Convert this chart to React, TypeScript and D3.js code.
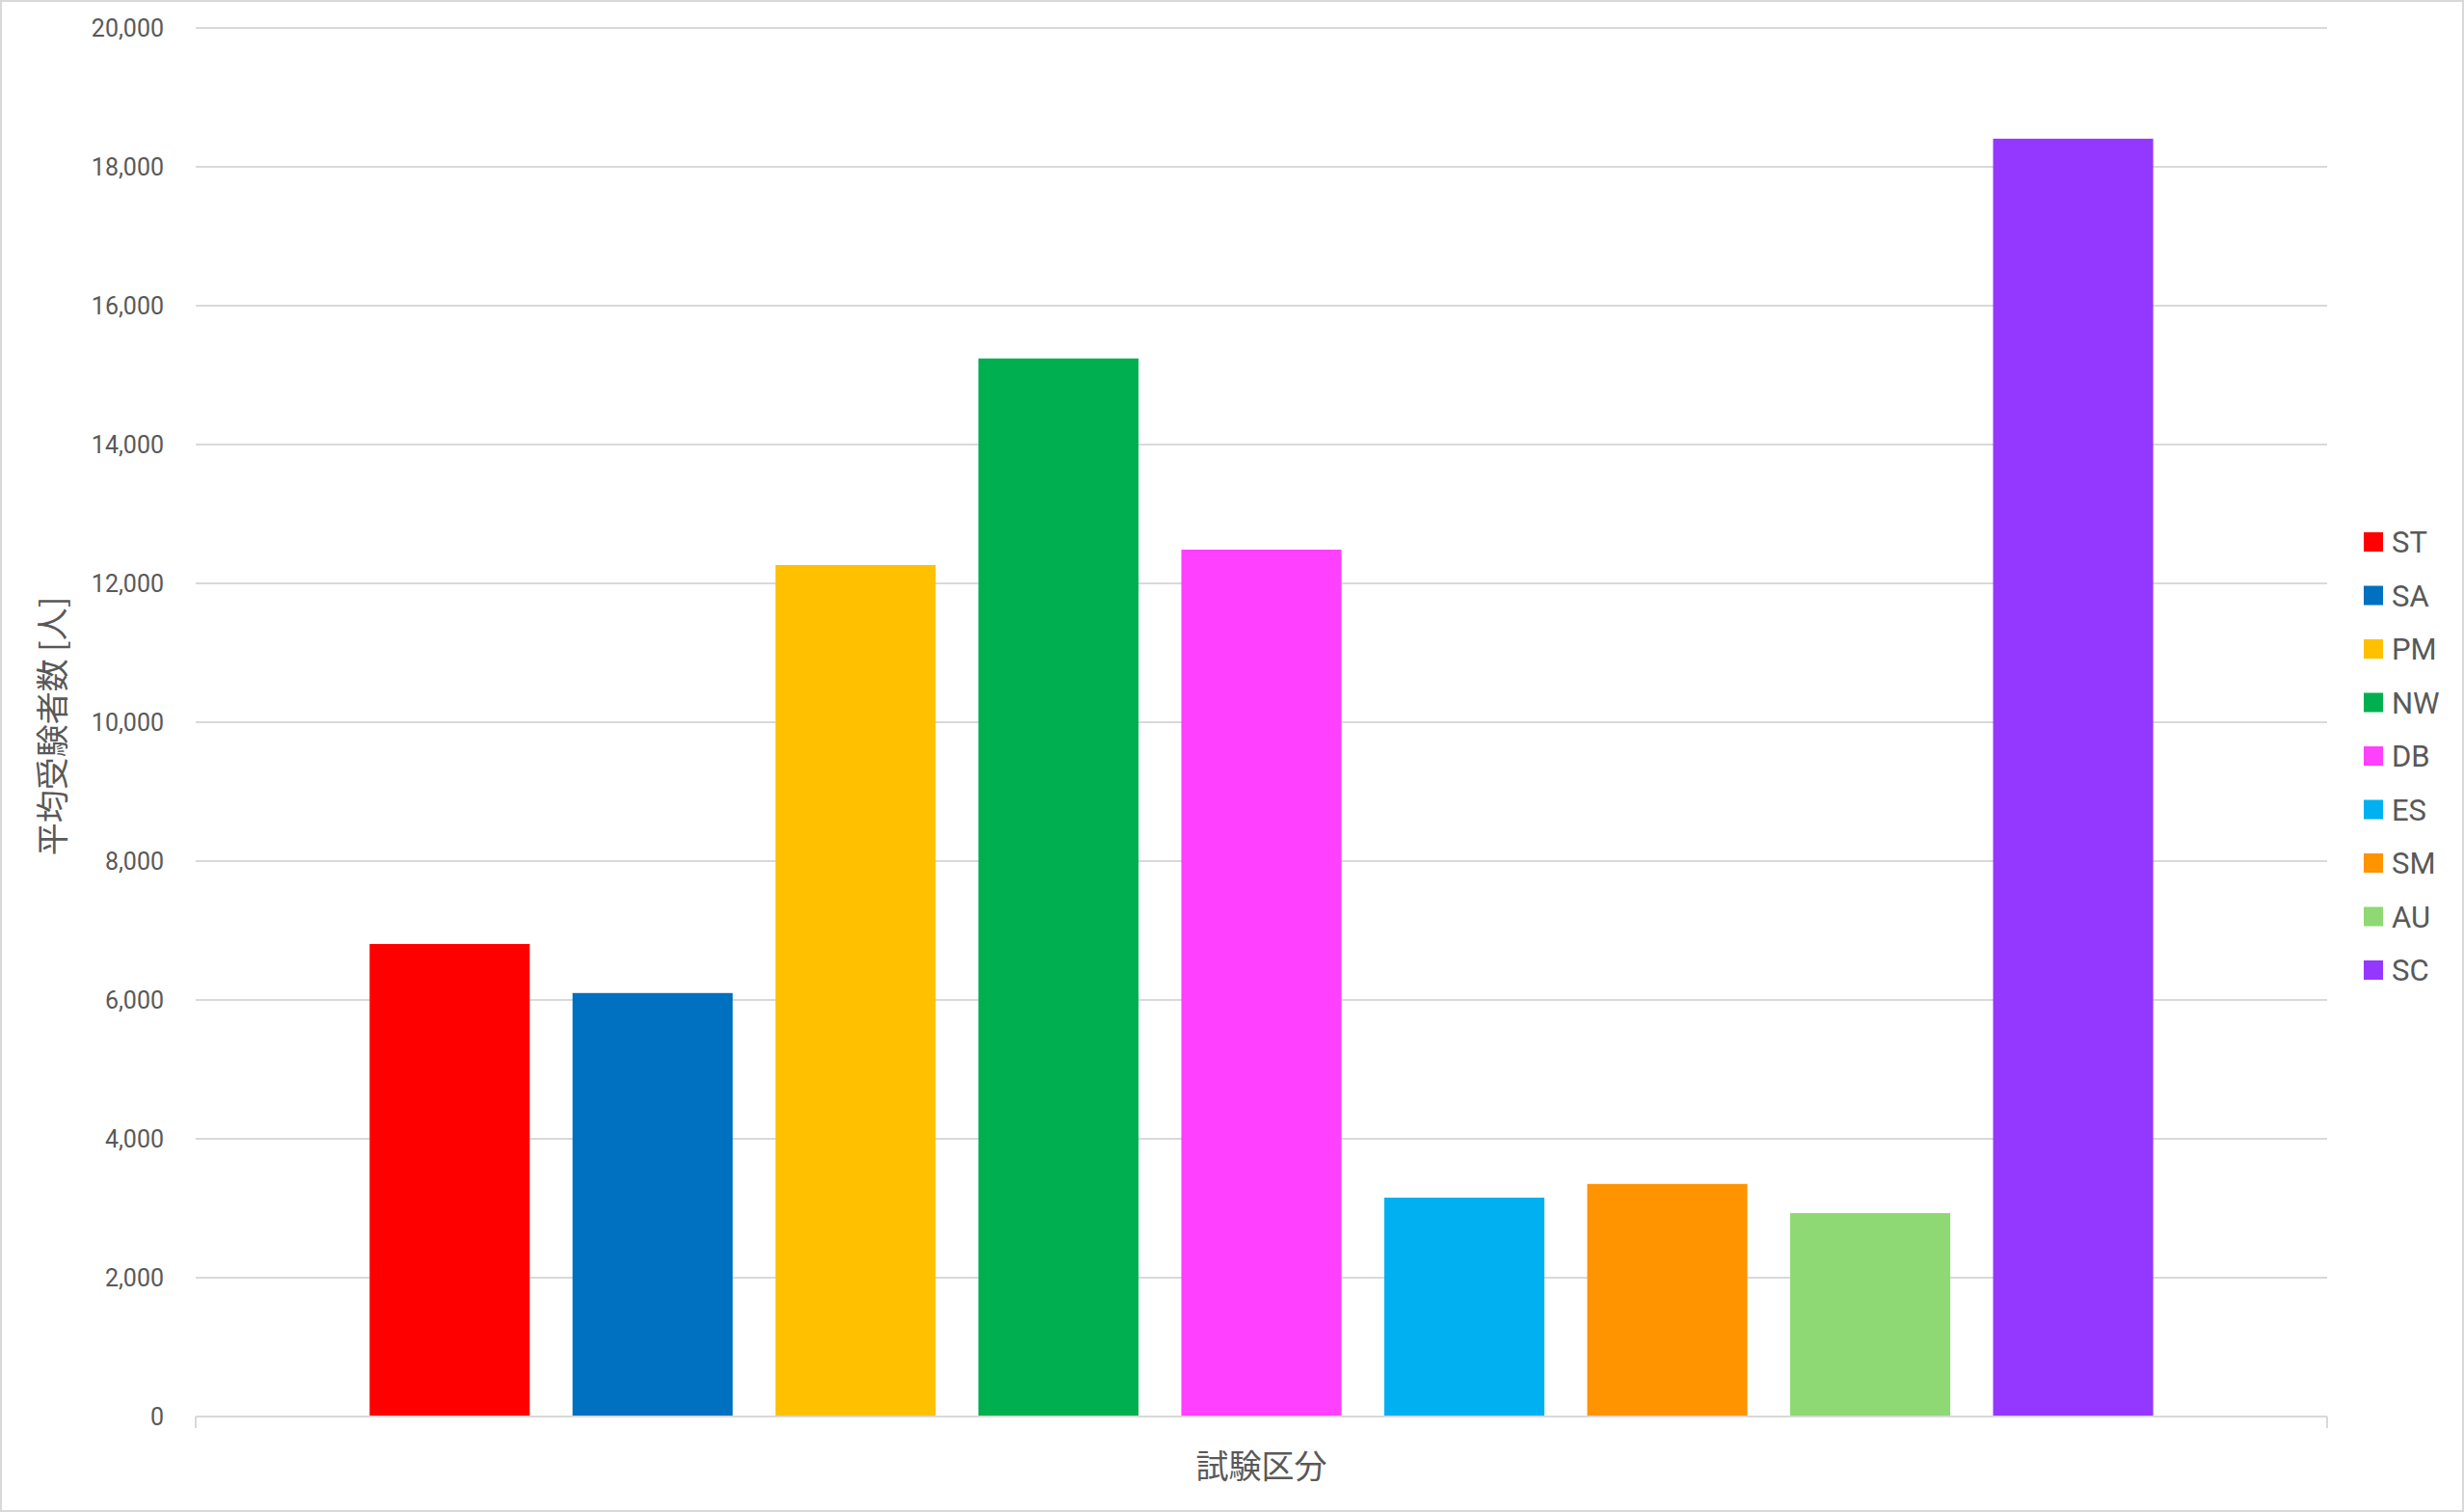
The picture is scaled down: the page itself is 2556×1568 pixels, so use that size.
import React from "react";
import * as d3 from "d3";

const seriesNames = ["ST", "SA", "PM", "NW", "DB", "ES", "SM", "AU", "SC"];
const seriesValues = [6806, 6100, 12264, 15240, 12486, 3153, 3350, 2930, 18405];
const seriesColors = ["#FF0000", "#0070C0", "#FFC000", "#00B050", "#FF40FF", "#00B0F0", "#FF9300", "#8ED973", "#9437FF"];
const yTicks = [0, 2000, 4000, 6000, 8000, 10000, 12000, 14000, 16000, 18000, 20000];
const yTitle = "平均受験者数 [人]";
const xTitle = "試験区分";

const W = 2556;
const H = 1568;
const plot = { left: 203, right: 2414, top: 29, bottom: 1469 };
const FONT = "Roboto, 'Noto Sans', 'Noto Sans CJK JP', sans-serif";
const CJK = "'Noto Sans CJK JP', sans-serif";
const TEXT = "#595959";
const GRID = "#D9D9D9";

export default function App() {
  const y = d3.scaleLinear().domain([0, 20000]).range([plot.bottom, plot.top]);
  const x = d3
    .scaleBand<string>()
    .domain(seriesNames)
    .range([plot.left, plot.right])
    .paddingInner(0.211)
    .paddingOuter(0.857);
  const fmt = d3.format(",");
  const legendX = 2452;
  const legendY0 = 562;
  const legendStep = 55.5;

  return (
    <svg
      width={W}
      height={H}
      style={{ position: "absolute", left: 0, top: 0, background: "#fff" }}
    >
      <rect x={1} y={1} width={W - 2} height={H - 2} fill="#fff" stroke={GRID} strokeWidth={2} />
      {yTicks.map((t) =>
        t === 0 ? null : (
          <line key={"g" + t} x1={plot.left} x2={plot.right} y1={y(t)} y2={y(t)} stroke={GRID} strokeWidth={2} />
        )
      )}
      {yTicks.map((t) => (
        <text
          key={"t" + t}
          x={170}
          y={y(t)}
          dy="0.35em"
          textAnchor="end"
          fontFamily={FONT}
          fontSize={25}
          fill={TEXT}
        >
          {fmt(t)}
        </text>
      ))}
      {seriesNames.map((s, i) => (
        <rect
          key={s}
          x={x(s)}
          y={y(seriesValues[i])}
          width={x.bandwidth()}
          height={y(0) - y(seriesValues[i])}
          fill={seriesColors[i]}
        />
      ))}
      <line x1={plot.left} x2={plot.right} y1={y(0)} y2={y(0)} stroke={GRID} strokeWidth={2} />
      <line x1={plot.left} x2={plot.left} y1={y(0)} y2={y(0) + 12} stroke={GRID} strokeWidth={2} />
      <line x1={plot.right} x2={plot.right} y1={y(0)} y2={y(0) + 12} stroke={GRID} strokeWidth={2} />
      <text
        x={(plot.left + plot.right) / 2}
        y={1521}
        dy="0.35em"
        textAnchor="middle"
        fontFamily={CJK}
        fontSize={34}
        fill={TEXT}
      >
        {xTitle}
      </text>
      <text
        transform={`translate(55, ${(plot.top + plot.bottom) / 2 + 4}) rotate(-90)`}
        dy="0.35em"
        textAnchor="middle"
        fontFamily={CJK}
        fontSize={34}
        fill={TEXT}
      >
        {yTitle}
      </text>
      {seriesNames.map((s, i) => (
        <g key={"l" + s} transform={`translate(${legendX}, ${legendY0 + i * legendStep})`}>
          <rect x={0} y={-10} width={20} height={20} fill={seriesColors[i]} />
          <text x={29} y={0} dy="0.36em" fontFamily={FONT} fontSize={31} fill={TEXT}>
            {s}
          </text>
        </g>
      ))}
    </svg>
  );
}
